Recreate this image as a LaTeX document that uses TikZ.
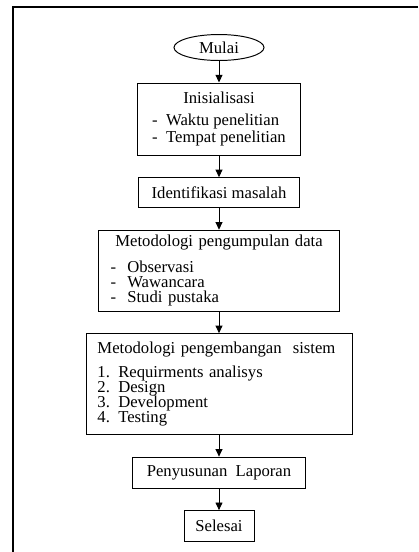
\documentclass[tikz,border=0pt]{standalone}
\usepackage{fontspec}
\setmainfont{Liberation Serif}
\usepackage{tikz}
\usetikzlibrary{positioning, arrows.meta, shapes.geometric}

\begin{document}
\begin{tikzpicture}[x=0.72pt, y=0.72pt, node distance=15.5pt,
    font=\fontsize{12}{11}\selectfont,
    box/.style={draw=black, line width=0.7pt, inner sep=0pt},
    flow/.style={-{Triangle[length=5.5pt, width=5pt]}, line width=0.7pt}]
  \useasboundingbox (0,0) rectangle (418,-552);
  \draw[line width=0.9pt] (418,-7) -- (13,-7) -- (13,-552);
  \node[ellipse, draw=black, line width=0.7pt, inner sep=0pt,
        minimum width=64.8pt, minimum height=18.7pt] (mulai) at (219,-47.5) {Mulai};
  \node[box, below=of mulai, minimum width=117pt, minimum height=52pt, align=center] (inisialisasi)
    {Inisialisasi\\[7pt]
     \begin{tabular}{@{}l@{}}- \ Waktu penelitian\\- \ Tempat penelitian\end{tabular}};
  \node[box, below=of inisialisasi, minimum width=116.6pt, minimum height=21.6pt] (identifikasi)
    {Identifikasi masalah};
  \node[box, below=of identifikasi, minimum width=173.5pt, minimum height=58.3pt,
        text width=156pt, align=left] (pengumpulan)
    {\makebox[\linewidth][c]{Metodologi pengumpulan data}\\[7.5pt]
     - \ Observasi\\- \ Wawancara\\- \ Studi pustaka};
  \node[box, below=of pengumpulan, minimum width=191.5pt, minimum height=72.7pt,
        text width=175pt, align=left] (pengembangan)
    {Metodologi pengembangan~ sistem\\[6pt]
     1. Requirments analisys\\2. Design\\3. Development\\4. Testing};
  \node[box, below=of pengembangan, minimum width=125pt, minimum height=22.3pt] (laporan)
    {Penyusunan~ Laporan};
  \node[box, below=of laporan, minimum width=50.4pt, minimum height=22.3pt] (selesai)
    {Selesai};
  \draw[flow] (mulai) -- (inisialisasi);
  \draw[flow] (inisialisasi) -- (identifikasi);
  \draw[flow] (identifikasi) -- (pengumpulan);
  \draw[flow] (pengumpulan) -- (pengembangan);
  \draw[flow] (pengembangan) -- (laporan);
  \draw[flow] (laporan) -- (selesai);
\end{tikzpicture}
\end{document}
